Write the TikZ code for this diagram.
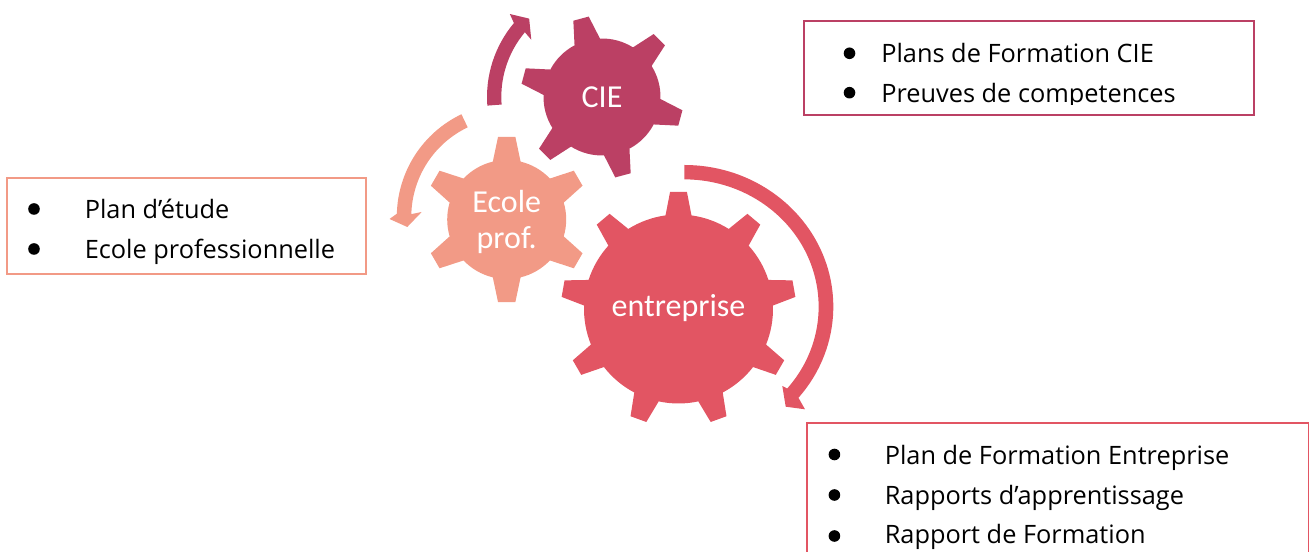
\documentclass[tikz,border=0pt]{standalone}
\usepackage{fontspec}
\setmainfont{Open Sans}
\newfontfamily\gearfont{Carlito}
\usetikzlibrary{positioning}
\definecolor{ciecol}{HTML}{BB4064}
\definecolor{ecolecol}{HTML}{F29A86}
\definecolor{entrcol}{HTML}{E25563}

% center, body radius, tip radius, teeth, first angle, base half angle, tip half angle, colour
\newcommand{\gearshape}[8]{%
  \pgfmathsetmacro{\gstep}{360/#4}
  \fill[#8,shift={(#1)}] ({#5-\gstep+#6}:#2)
    \foreach \i [evaluate=\i as \a using #5+(\i-1)*\gstep] in {1,...,#4}{
      arc[start angle=\a-\gstep+#6,end angle=\a-#6,radius=#2]
      -- ({\a-#7}:#3)
      -- ({\a+#7}:#3)
      -- ({\a+#6}:#2)
    } -- cycle;
}

\begin{document}
\begin{tikzpicture}[x=0.75pt,y=0.75pt,
    gearlabel/.style={text=white,font=\gearfont\fontsize{24}{27.5}\selectfont,align=center},
    listtext/.style={anchor=base west,inner sep=0pt,font=\fontsize{19}{23}\selectfont},
    dot/.style={circle,fill=black,inner sep=0pt,minimum size=8.7pt},
    listbox/.style={draw,line width=1.4pt,inner sep=0pt,outer sep=0pt,anchor=north west}]
  \useasboundingbox (0,0) rectangle (1309,552);

  % gears
  \gearshape{602,455}{58.5}{81.5}{6}{105}{13}{5.6}{ciecol}
  \gearshape{506.7,332.5}{59.5}{83}{6}{90}{13.5}{6}{ecolecol}
  \gearshape{678.5,243}{94.5}{117.5}{9}{90}{7.9}{4.1}{entrcol}

  \node[gearlabel] (cie) at (602,455) {CIE};
  \node[gearlabel] (ecole) at (506.7,330) {Ecole\\prof.};
  \node[gearlabel] (entreprise) at (678.5,244) {entreprise};

  % arrows
  \fill[ciecol,shift={(602,455)}] (184.3:115) arc[start angle=184.3,end angle=140,radius=115]
    -- (138:124) -- (132.9:107) -- (141:91) -- (140:100.7)
    arc[start angle=140,end angle=184.3,radius=100.7] -- cycle;
  \fill[ecolecol,shift={(510.3,335.3)}] (115.5:113.5) arc[start angle=115.5,end angle=178.5,radius=113.5]
    -- (-120.8,-2.3) -- (-103,-10.3) -- (-88.6,4.7) -- (178.5:99)
    arc[start angle=178.5,end angle=115.5,radius=99] -- cycle;
  \fill[entrcol] (684.3,387) arc[start angle=90,end angle=-40,x radius=149,y radius=141.7]
    -- (805,142.7) -- (785.7,145.3) -- (782.3,166) -- (787.2,163.5)
    arc[start angle=-40,end angle=90,x radius=134.3,y radius=127.3] -- cycle;

  % lists
  \node[listbox,draw=ciecol,minimum width=337.5pt,minimum height=70.5pt] (boxcie) at (804,531) {};
  \node[listbox,draw=ecolecol,minimum width=269pt,minimum height=72pt] (boxecole) at (7.3,373.7) {};
  \node[listbox,draw=entrcol,minimum width=376.5pt,minimum height=110pt] (boxentr) at (806.8,128.7) {};

  \node[listtext] (a1) at (881,489.5) {Plans de Formation CIE};
  \begin{scope}
    \clip (804,447.5) rectangle (1254,531);
    \node[listtext] (a2) at (881,449.5) {Preuves de competences};
  \end{scope}
  \node[listtext] (b1) at (84.5,333.5) {Plan d’étude};
  \node[listtext] (b2) at (84.5,293.5) {Ecole professionnelle};
  \node[listtext] (c1) at (884.5,87) {Plan de Formation Entreprise};
  \node[listtext] (c2) at (884.5,47.5) {Rapports d’apprentissage};
  \node[listtext] (c3) at (884.5,8) {Rapport de Formation};

  \foreach \n/\x/\y in {d1/849.5/498.7,d2/849.5/459.3,d3/34/343,d4/34/303,d5/834.4/97.5,d6/834.4/57,d7/834.4/16}
    \node[dot] (\n) at (\x,\y) {};
\end{tikzpicture}
\end{document}
